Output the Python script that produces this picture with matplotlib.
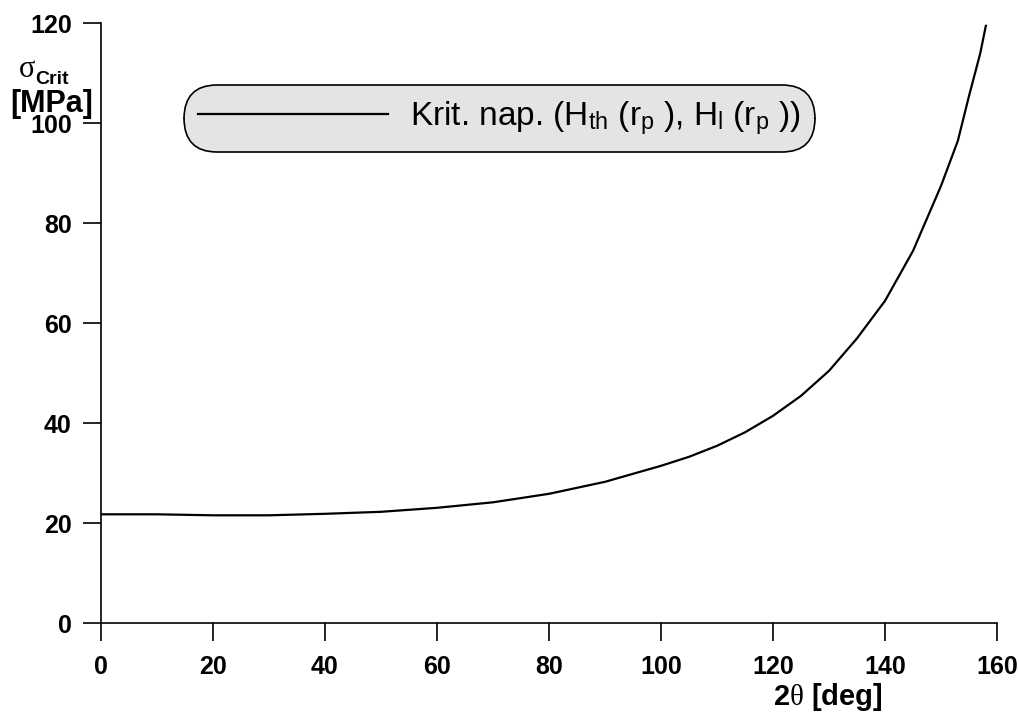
import matplotlib
matplotlib.use("Agg")
import matplotlib.pyplot as plt

plt.rcParams['font.family'] = ['Liberation Sans', 'DejaVu Sans']
plt.rcParams['mathtext.fontset'] = 'custom'
plt.rcParams['mathtext.rm'] = 'Liberation Sans'
plt.rcParams['mathtext.it'] = 'Liberation Serif'
plt.rcParams['mathtext.bf'] = 'Liberation Sans:bold'

# curve
two_theta = [0, 10, 20, 30, 40, 50, 60, 70, 80, 90, 100, 105, 110, 115, 120,
             125, 130, 135, 140, 145, 150, 153, 155, 157, 158]
sigma_crit = [21.8, 21.8, 21.6, 21.6, 21.9, 22.3, 23.1, 24.2, 25.9, 28.3, 31.5, 33.3, 35.5, 38.2, 41.5,
              45.5, 50.5, 57.0, 64.5, 74.5, 87.5, 96.5, 105.5, 114.0, 119.5]

x_ticks = [0, 20, 40, 60, 80, 100, 120, 140, 160]
y_ticks = [0, 20, 40, 60, 80, 100, 120]
legend_label = r"Krit. nap. (H$_{\mathrm{th}}$ (r$_{\mathrm{p}}$ ), H$_{\mathrm{l}}$ (r$_{\mathrm{p}}$ ))"

fig = plt.figure(figsize=(10.2, 7.13), dpi=100)
ax = fig.add_axes([0.099, 0.1258, 0.8785, 0.8415])

ax.plot(two_theta, sigma_crit, color="black", lw=1.6, label=legend_label)

ax.set_xlim(0, 160)
ax.set_ylim(0, 120)
ax.set_xticks(x_ticks)
ax.set_yticks(y_ticks)
for side in ["top", "right"]:
    ax.spines[side].set_visible(False)
for side in ["left", "bottom"]:
    ax.spines[side].set_linewidth(1.2)
ax.tick_params(direction="out", length=13, width=1.2, labelsize=18)
ax.tick_params(axis="x", pad=10)
ax.tick_params(axis="y", pad=8)
for lbl in ax.get_xticklabels() + ax.get_yticklabels():
    lbl.set_fontweight("bold")

# axis titles placed like the original
fig.text(18 / 1020, 1 - 69 / 713, r"$\sigma$", fontsize=22, ha="left", va="center")
fig.text(35 / 1020, 1 - 80 / 713, "Crit", fontsize=14, fontweight="bold", ha="left", va="center")
fig.text(52 / 1020, 1 - 104 / 713, "[MPa]", fontsize=22, fontweight="bold", ha="center", va="center")
fig.text(828 / 1020, 1 - 697 / 713, r"2$\theta$ [deg]", fontsize=21, fontweight="bold",
         ha="center", va="center")

leg = ax.legend(loc="center", bbox_to_anchor=(499.5 / 1020, 1 - 118.5 / 713), bbox_transform=fig.transFigure,
                fontsize=24, handlelength=5.7, handletextpad=0.65, borderpad=0.18,
                frameon=True, fancybox=True)
frame = leg.get_frame()
frame.set_facecolor("#e4e4e4")
frame.set_edgecolor("black")
frame.set_linewidth(1.2)
frame.set_alpha(1)
frame.set_boxstyle("round,pad=0.25,rounding_size=1.0")
leg.get_lines()[0].set_linewidth(1.6)

fig.savefig("out.png", dpi=100)
